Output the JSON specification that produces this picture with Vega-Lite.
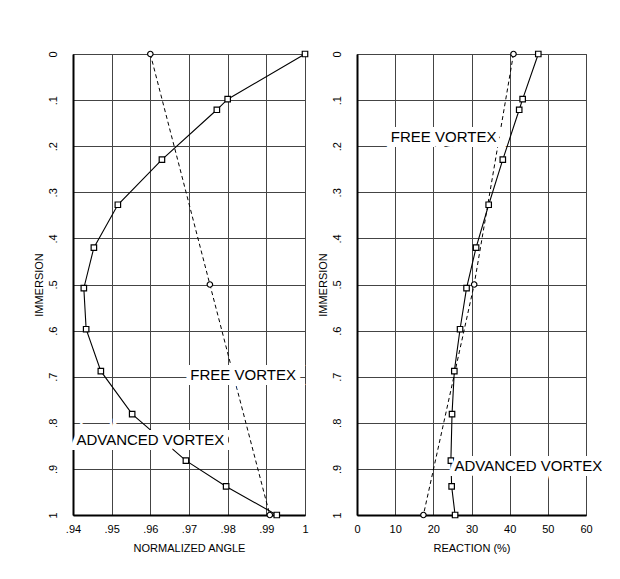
{
  "$schema": "https://vega.github.io/schema/vega-lite/v6.json",
  "padding": {"left": 32, "top": 48, "right": 10, "bottom": 10},
  "background": "white",
  "spacing": 5,
  "config": {
    "font": "Liberation Sans",
    "view": {"stroke": "#333", "strokeWidth": 1},
    "axis": {
      "labelFont": "Liberation Sans", "titleFont": "Liberation Sans",
      "labelFontSize": 11, "titleFontSize": 11, "titleFontWeight": "normal",
      "labelColor": "black", "titleColor": "black",
      "grid": true, "gridColor": "#444", "gridWidth": 1, "gridOpacity": 1,
      "ticks": false, "domainColor": "black", "domainWidth": 2,
      "labelOverlap": false, "labelFlush": false, "labelSeparation": 0, "labelBound": false
    }
  },
  "datasets": {
    "angle": [
      {"series": "advanced", "immersion": 0.0, "angle": 1.0},
      {"series": "advanced", "immersion": 0.098, "angle": 0.980},
      {"series": "advanced", "immersion": 0.121, "angle": 0.9772},
      {"series": "advanced", "immersion": 0.229, "angle": 0.963},
      {"series": "advanced", "immersion": 0.327, "angle": 0.9516},
      {"series": "advanced", "immersion": 0.42, "angle": 0.9454},
      {"series": "advanced", "immersion": 0.508, "angle": 0.9428},
      {"series": "advanced", "immersion": 0.597, "angle": 0.9434},
      {"series": "advanced", "immersion": 0.688, "angle": 0.9472},
      {"series": "advanced", "immersion": 0.781, "angle": 0.9553},
      {"series": "advanced", "immersion": 0.882, "angle": 0.9692},
      {"series": "advanced", "immersion": 0.938, "angle": 0.9796},
      {"series": "advanced", "immersion": 1.0, "angle": 0.9927},
      {"series": "free", "immersion": 0.0, "angle": 0.960},
      {"series": "free", "immersion": 0.5, "angle": 0.9754},
      {"series": "free", "immersion": 1.0, "angle": 0.9909}
    ],
    "reaction": [
      {"series": "advanced", "immersion": 0.0, "reaction": 47.5},
      {"series": "advanced", "immersion": 0.098, "reaction": 43.4},
      {"series": "advanced", "immersion": 0.121, "reaction": 42.5},
      {"series": "advanced", "immersion": 0.229, "reaction": 38.2},
      {"series": "advanced", "immersion": 0.327, "reaction": 34.5},
      {"series": "advanced", "immersion": 0.42, "reaction": 31.2},
      {"series": "advanced", "immersion": 0.508, "reaction": 28.7},
      {"series": "advanced", "immersion": 0.597, "reaction": 27.0},
      {"series": "advanced", "immersion": 0.688, "reaction": 25.5},
      {"series": "advanced", "immersion": 0.781, "reaction": 24.9},
      {"series": "advanced", "immersion": 0.882, "reaction": 24.6},
      {"series": "advanced", "immersion": 0.938, "reaction": 24.8},
      {"series": "advanced", "immersion": 1.0, "reaction": 25.7},
      {"series": "free", "immersion": 0.0, "reaction": 41.0},
      {"series": "free", "immersion": 0.5, "reaction": 30.7},
      {"series": "free", "immersion": 1.0, "reaction": 17.4}
    ],
    "angleLabels": [
      {"label": "FREE VORTEX", "immersion": 0.697, "angle": 0.984},
      {"label": "ADVANCED VORTEX", "immersion": 0.838, "angle": 0.960}
    ],
    "reactionLabels": [
      {"label": "FREE VORTEX", "immersion": 0.18, "reaction": 22.7},
      {"label": "ADVANCED VORTEX", "immersion": 0.894, "reaction": 44.9}
    ]
  },
  "hconcat": [
    {
      "width": 232, "height": 461,
      "encoding": {
        "x": {"field": "angle", "type": "quantitative",
              "scale": {"domain": [0.94, 1.0], "nice": false, "zero": false},
              "axis": {"title": "NORMALIZED ANGLE", "values": [0.94, 0.95, 0.96, 0.97, 0.98, 0.99, 1.0],
                       "labelOverlap": false, "labelFlush": false, "labelSeparation": 0,
                       "labelExpr": "datum.value >= 1 ? '1' : substring(format(datum.value, '.2f'), 1)",
                       "labelPadding": 8, "titlePadding": 8}},
        "y": {"field": "immersion", "type": "quantitative",
              "scale": {"domain": [0, 1], "reverse": true, "nice": false},
              "axis": {"title": "IMMERSION", "values": [0, 0.1, 0.2, 0.3, 0.4, 0.5, 0.6, 0.7, 0.8, 0.9, 1.0],
                       "labelOverlap": false, "labelFlush": false,
                       "labelAngle": -90, "labelAlign": "center", "labelBaseline": "bottom",
                       "labelExpr": "datum.value == 0 ? '0' : datum.value >= 1 ? '1' : substring(format(datum.value, '.1f'), 1)",
                       "labelPadding": 15, "titlePadding": 3}}
      },
      "layer": [
        {
          "data": {"name": "angle"},
          "transform": [{"filter": "datum.series === 'free'"}],
          "mark": {"type": "line", "color": "black", "strokeWidth": 1, "strokeDash": [4, 3]},
          "encoding": {"order": {"field": "immersion"}}
        },
        {
          "data": {"name": "angle"},
          "transform": [{"filter": "datum.series === 'advanced'"}],
          "mark": {"type": "line", "color": "black", "strokeWidth": 1.1},
          "encoding": {"order": {"field": "immersion"}}
        },
        {
          "data": {"name": "angle"},
          "transform": [{"filter": "datum.series === 'free'"}],
          "mark": {"type": "point", "shape": "circle", "filled": false, "color": "black", "fill": "white", "fillOpacity": 1, "size": 30, "strokeWidth": 1.2}
        },
        {
          "data": {"name": "angle"},
          "transform": [{"filter": "datum.series === 'advanced'"}],
          "mark": {"type": "point", "shape": "square", "filled": false, "color": "black", "fill": "white", "fillOpacity": 1, "size": 30, "strokeWidth": 1.2}
        },
        {
          "data": {"name": "angleLabels"},
          "mark": {"type": "text", "fontSize": 15, "stroke": "white", "strokeWidth": 10, "fill": "white", "align": "center", "baseline": "middle"},
          "encoding": {"text": {"field": "label"}}
        },
        {
          "data": {"name": "angleLabels"},
          "mark": {"type": "text", "fontSize": 15, "color": "black", "align": "center", "baseline": "middle"},
          "encoding": {"text": {"field": "label"}}
        }
      ]
    },
    {
      "width": 229, "height": 461,
      "encoding": {
        "x": {"field": "reaction", "type": "quantitative",
              "scale": {"domain": [0, 60], "nice": false},
              "axis": {"title": "REACTION (%)", "values": [0, 10, 20, 30, 40, 50, 60],
                       "labelOverlap": false, "labelFlush": false, "labelSeparation": 0,
                       "labelPadding": 8, "titlePadding": 8}},
        "y": {"field": "immersion", "type": "quantitative",
              "scale": {"domain": [0, 1], "reverse": true, "nice": false},
              "axis": {"title": "IMMERSION", "values": [0, 0.1, 0.2, 0.3, 0.4, 0.5, 0.6, 0.7, 0.8, 0.9, 1.0],
                       "labelOverlap": false, "labelFlush": false,
                       "labelAngle": -90, "labelAlign": "center", "labelBaseline": "bottom",
                       "labelExpr": "datum.value == 0 ? '0' : datum.value >= 1 ? '1' : substring(format(datum.value, '.1f'), 1)",
                       "labelPadding": 15, "titlePadding": 3}}
      },
      "layer": [
        {
          "data": {"name": "reaction"},
          "transform": [{"filter": "datum.series === 'free'"}],
          "mark": {"type": "line", "color": "black", "strokeWidth": 1, "strokeDash": [4, 3]},
          "encoding": {"order": {"field": "immersion"}}
        },
        {
          "data": {"name": "reaction"},
          "transform": [{"filter": "datum.series === 'advanced'"}],
          "mark": {"type": "line", "color": "black", "strokeWidth": 1.1},
          "encoding": {"order": {"field": "immersion"}}
        },
        {
          "data": {"name": "reaction"},
          "transform": [{"filter": "datum.series === 'free'"}],
          "mark": {"type": "point", "shape": "circle", "filled": false, "color": "black", "fill": "white", "fillOpacity": 1, "size": 30, "strokeWidth": 1.2}
        },
        {
          "data": {"name": "reaction"},
          "transform": [{"filter": "datum.series === 'advanced'"}],
          "mark": {"type": "point", "shape": "square", "filled": false, "color": "black", "fill": "white", "fillOpacity": 1, "size": 30, "strokeWidth": 1.2}
        },
        {
          "data": {"name": "reactionLabels"},
          "mark": {"type": "text", "fontSize": 15, "stroke": "white", "strokeWidth": 10, "fill": "white", "align": "center", "baseline": "middle"},
          "encoding": {"text": {"field": "label"}}
        },
        {
          "data": {"name": "reactionLabels"},
          "mark": {"type": "text", "fontSize": 15, "color": "black", "align": "center", "baseline": "middle"},
          "encoding": {"text": {"field": "label"}}
        }
      ]
    }
  ]
}
